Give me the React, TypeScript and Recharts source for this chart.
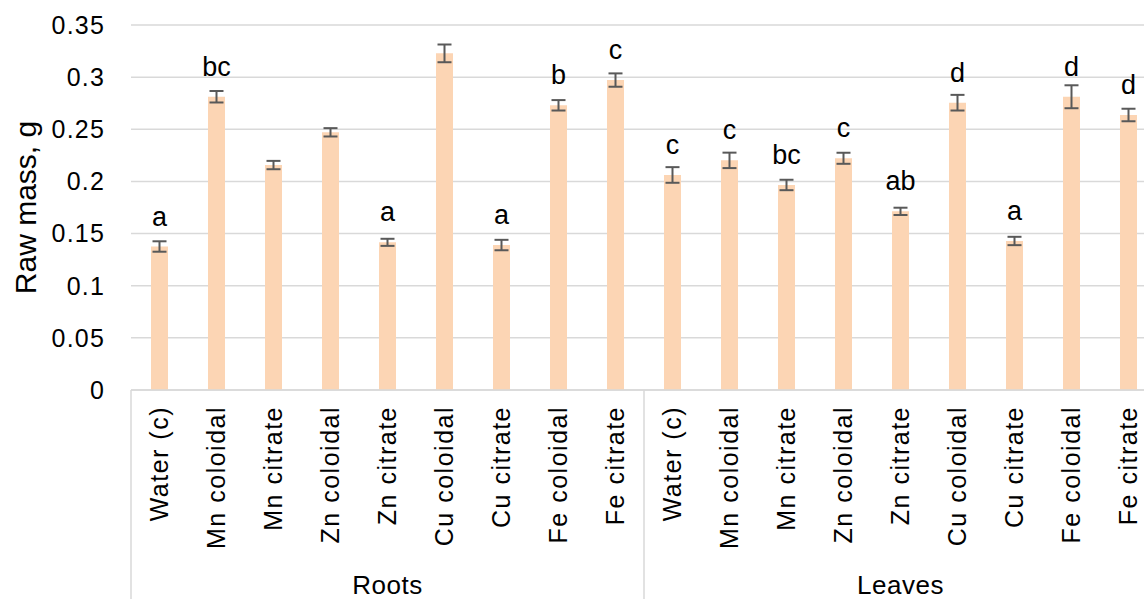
import React from 'react';
import { BarChart, Bar, XAxis, YAxis, CartesianGrid, ErrorBar, LabelList, Label } from 'recharts';

const groups = ['Roots', 'Leaves'];
const categories = ['Water (c)', 'Mn coloidal', 'Mn citrate', 'Zn coloidal', 'Zn citrate', 'Cu coloidal', 'Cu citrate', 'Fe coloidal', 'Fe citrate'];

const rootsMass = [0.1376, 0.2812, 0.2157, 0.2471, 0.1416, 0.3228, 0.139, 0.273, 0.2972];
const rootsErr = [0.005, 0.0055, 0.004, 0.004, 0.0034, 0.0085, 0.005, 0.005, 0.0064];
const rootsLetters = ['a', 'bc', '', '', 'a', '', 'a', 'b', 'c'];

const leavesMass = [0.2062, 0.2202, 0.1966, 0.2222, 0.1713, 0.2755, 0.1429, 0.2812, 0.2637];
const leavesErr = [0.0075, 0.0074, 0.005, 0.0053, 0.0035, 0.0075, 0.004, 0.011, 0.006];
const leavesLetters = ['c', 'c', 'bc', 'c', 'ab', 'd', 'a', 'd', 'd'];

const yTicks = [0, 0.05, 0.1, 0.15, 0.2, 0.25, 0.3, 0.35];

const seriesByGroup = [
  { mass: rootsMass, err: rootsErr, letters: rootsLetters },
  { mass: leavesMass, err: leavesErr, letters: leavesLetters },
];

const data = groups.flatMap((g, gi) =>
  categories.map((c, ci) => ({
    key: `${g}-${c}`,
    group: g,
    name: c,
    mass: seriesByGroup[gi].mass[ci],
    err: seriesByGroup[gi].err[ci],
    letter: seriesByGroup[gi].letters[ci],
  }))
);

const FONT = '"Liberation Sans", Arial, Helvetica, sans-serif';
const GRID = '#d9d9d9';
const n = categories.length;

const CatTick = (props: any) => {
  const { x, y, payload, width } = props;
  const i = payload?.index ?? props.index;
  const d = data[i];
  if (!d) return null;
  const half = payload?.offset ?? width / data.length / 2;
  const ty = y + 16;
  return (
    <g>
      <text
        x={x}
        y={ty}
        transform={`rotate(-90, ${x}, ${ty})`}
        textAnchor="end"
        dy="0.35em"
        fontSize={25}
        letterSpacing={1.5}
        fontFamily={FONT}
        fill="#000"
      >
        {d.name}
      </text>
      {i % n === 0 && (
        <line x1={x - half} x2={x - half} y1={y} y2={y + 215} stroke={GRID} strokeWidth={1.5} />
      )}
      {i % n === Math.floor(n / 2) && (
        <text x={x} y={y + 204} textAnchor="middle" fontSize={26} letterSpacing={0.5} fontFamily={FONT} fill="#000">
          {d.group}
        </text>
      )}
    </g>
  );
};

const LetterLabel = (props: any) => {
  const { x, y, width, value } = props;
  if (!value) return null;
  return (
    <text x={x + width / 2} y={y - 21} textAnchor="middle" fontSize={27} fontFamily={FONT} fill="#000">
      {value}
    </text>
  );
};

const YTitle = (props: any) => {
  const vb = props.viewBox || { x: 0, y: 25, width: 131, height: 365 };
  const cx = vb.x + 36;
  const cy = vb.y + vb.height / 2;
  return (
    <text x={cx} y={cy} transform={`rotate(-90, ${cx}, ${cy})`} textAnchor="middle" fontSize={30} fontFamily={FONT} fill="#000">
      Raw mass, g
    </text>
  );
};

export default function App() {
  return (
    <div style={{ position: 'fixed', left: 0, top: 0, width: 1144, height: 599, overflow: 'hidden', background: '#fff' }}>
      <BarChart width={1170} height={599} data={data} margin={{ top: 25, right: 13, bottom: 0, left: 0 }} barCategoryGap={0}>
        <CartesianGrid vertical={false} stroke={GRID} strokeWidth={1.5} />
        <XAxis
          dataKey="key"
          interval={0}
          height={209}
          tickLine={false}
          tickSize={0}
          tickMargin={0}
          axisLine={{ stroke: GRID, strokeWidth: 1.5 }}
          tick={<CatTick />}
        />
        <YAxis
          domain={[0, 0.35]}
          ticks={yTicks}
          width={131}
          axisLine={false}
          tickLine={false}
          tickMargin={20}
          tick={{ fontSize: 25, fill: '#000', fontFamily: FONT, letterSpacing: 1.2 }}
        >
          <Label content={<YTitle />} />
        </YAxis>
        <Bar dataKey="mass" fill="#FCD5B4" barSize={17} isAnimationActive={false}>
          <ErrorBar dataKey="err" width={7} stroke="#595959" strokeWidth={2} direction="y" isAnimationActive={false} />
          <LabelList dataKey="letter" content={<LetterLabel />} />
        </Bar>
      </BarChart>
    </div>
  );
}
